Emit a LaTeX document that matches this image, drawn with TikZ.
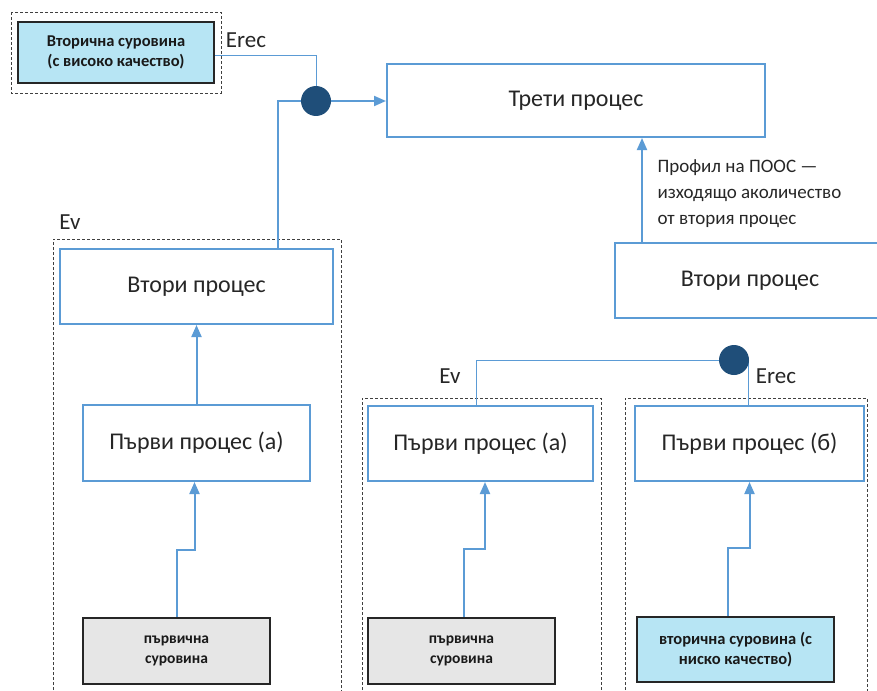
\documentclass[tikz,border=0pt]{standalone}
\usepackage{fontspec}
\setmainfont{Carlito}
\usetikzlibrary{arrows.meta,calc}
\definecolor{pblue}{HTML}{5B9BD5}
\definecolor{navy}{HTML}{1F4E79}
\definecolor{lcyan}{HTML}{B7E5F4}
\definecolor{lgray}{HTML}{E6E6E6}
\definecolor{dborder}{HTML}{262626}
\pgfdeclarelayer{bg}
\pgfsetlayers{bg,main}
\begin{document}
\begin{tikzpicture}[x=1pt,y=-1pt,
  proc/.style={draw=pblue, line width=2pt, fill=white, inner sep=0pt, text=black!85, font=\fontsize{24}{28}\selectfont},
  raw/.style={draw=dborder, line width=1.5pt, inner sep=0pt, align=center, text=black!90, font=\bfseries\fontsize{16.5}{20}\selectfont},
  grp/.style={draw=black!75, dash pattern=on 3pt off 2pt, line width=0.8pt},
  flow/.style={draw=pblue, line width=2pt, -{Triangle[length=12pt,width=10pt]}},
  conn/.style={draw=pblue, line width=2pt},
  thinconn/.style={draw=pblue, line width=1pt},
  junc/.style={circle, fill=navy, minimum size=30pt, inner sep=0pt},
  lbl/.style={text=black!85, font=\fontsize{23}{26}\selectfont},
  note/.style={text=black!85, align=left, font=\fontsize{19}{26}\selectfont}
]
\useasboundingbox (0,0) rectangle (877,690);
\clip (0,0) rectangle (877,690);

% nodes
\node[proc, minimum width=378pt, minimum height=73pt] (third) at (576,100.5) {Трети процес};
\node[proc, minimum width=270pt, minimum height=75pt] (secR) at (750,280.5) {Втори процес};
\node[proc, minimum width=273pt, minimum height=75pt] (secL) at (196.5,286.5) {Втори процес};
\node[proc, minimum width=227pt, minimum height=76pt] (firstA) at (196.5,443) {Първи процес (а)};
\node[proc, minimum width=225pt, minimum height=75pt] (firstM) at (480.5,443.5) {Първи процес (а)};
\node[proc, minimum width=229pt, minimum height=75pt] (firstB) at (749.5,443.5) {Първи процес (б)};
\node[raw, fill=lcyan, minimum width=196pt, minimum height=61pt] (hq) at (116,52.5) {Вторична суровина\\(с високо качество)};
\node[raw, fill=lgray, minimum width=187pt, minimum height=66pt, font=\bfseries\fontsize{15.5}{20}\selectfont] (prim1) at (176.5,651) {първична\\суровина};
\node[raw, fill=lgray, minimum width=187pt, minimum height=66pt, font=\bfseries\fontsize{15.5}{20}\selectfont] (prim2) at (461.5,651) {първична\\суровина};
\node[raw, fill=lcyan, minimum width=197pt, minimum height=65pt] (sec2) at (735.5,649.5) {вторична суровина (с\\ниско качество)};
\node[junc] (j1) at (316,101) {};
\node[junc] (j2) at (734,360) {};

\node[lbl] (erec1) at (246,40) {Erec};
\node[lbl] (ev1) at (70,222) {Ev};
\node[lbl] (ev2) at (450,376) {Ev};
\node[lbl] (erec2) at (776,376) {Erec};
\node[note, anchor=west] (profile) at (654,194) {Профил на ПООС —\\изходящо аколичество\\от втория процес};

\begin{pgfonlayer}{bg}
% dashed groups
\draw[grp] (11,12) rectangle (221,93);
\draw[grp] (53,695) -- (53,239) -- (341,239) -- (341,695);
\draw[grp] (362,695) -- (362,398) -- (601,398) -- (601,695);
\draw[grp] (625,695) -- (625,398) -- (867,398) -- (867,695);

% connectors
\draw[thinconn] ($(hq.east)+(0,3.5)$) -| (j1.center);
\draw[conn] ($(secL.north)+(81.5,0)$) |- (j1.center);
\draw[flow] (j1.center) -- (j1 -| third.west);
\draw[flow] ($(secR.north)+(-108,0)$) -- ($(third.south)+(66,0)$);
\draw[flow] (firstA.north) -- (secL.south);
\draw[flow] (prim1.north) -- ++(0,-67) -| ($(firstA.south)+(-2,0)$);
\draw[flow] ($(prim2.north)+(2.5,0)$) -- ++(0,-68) -| ($(firstM.south)+(4.5,0)$);
\draw[flow] ($(sec2.north)+(-7.5,0)$) -- ++(0,-68) -| (firstB.south);
\draw[thinconn] ($(firstM.north)+(-4.5,0)$) |- (j2.center);
\draw[thinconn] ($(firstB.north)+(-1.5,0)$) -- ($(firstB.north |- j2.center)+(-1.5,0)$);
\end{pgfonlayer}
\end{tikzpicture}
\end{document}
